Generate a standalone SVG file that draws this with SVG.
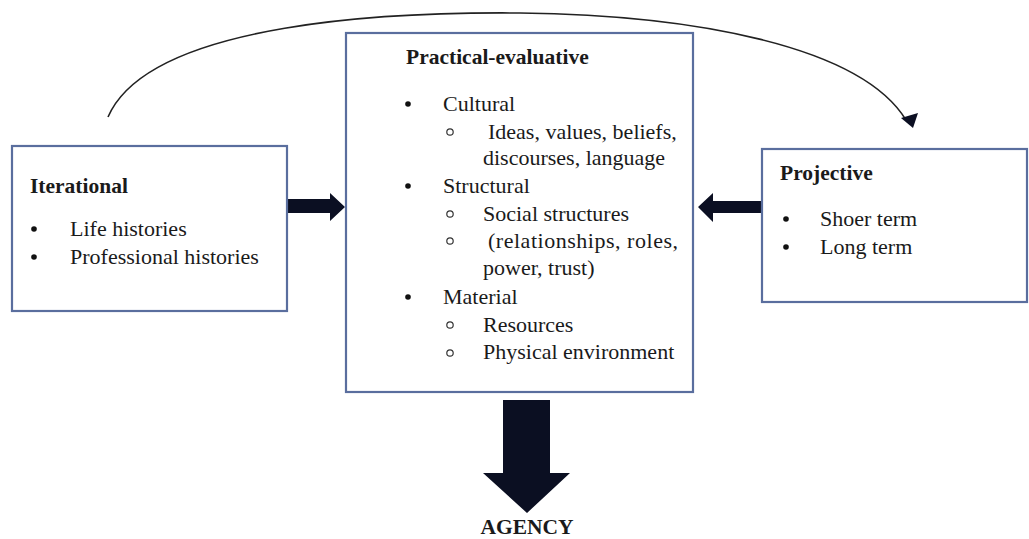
<svg xmlns="http://www.w3.org/2000/svg" width="1029" height="539" viewBox="0 0 1029 539">
  <style>
    .box { fill: #ffffff; stroke: #5a6e9e; stroke-width: 2.2; }
    .t { font-family: "Liberation Serif", "Times New Roman", serif; font-size: 22px; fill: #1a1a1a; }
    .b { font-weight: bold; font-size: 21.5px; }
    .blk { fill: #0b0f22; }
    .dot { fill: #111111; }
    .sub { fill: none; stroke: #333333; stroke-width: 1.2; }
  </style>
  <rect width="1029" height="539" fill="#ffffff"/>

  <!-- connectors -->
  <g id="connectors">
    <!-- arc from Iterational over to Projective -->
    <path d="M108,117 C150,20 400,12 520,13 C690,15 860,45 906,120" fill="none" stroke="#222222" stroke-width="1.6"/>
    <polygon class="blk" points="901,118 918,113 913,128"/>
    <!-- Iterational to Practical-evaluative -->
    <polygon class="blk" points="287,199 330,199 330,193 345,207 330,221 330,213 287,213"/>
    <!-- Projective to Practical-evaluative -->
    <polygon class="blk" points="762,201 713,201 713,193 698,207 713,222 713,213 762,213"/>
    <!-- Practical-evaluative down to Agency -->
    <polygon class="blk" points="503,400 550,400 550,473 570,473 527,513 483,473 503,473"/>
  </g>

  <g id="iterational">
    <rect class="box" x="12" y="146" width="275" height="165"/>
    <text class="t b" x="30" y="193">Iterational</text>
    <circle class="dot" cx="34" cy="229" r="2.8"/>
    <text class="t" x="70" y="236">Life histories</text>
    <circle class="dot" cx="34" cy="257" r="2.8"/>
    <text class="t" x="70" y="264">Professional histories</text>
  </g>

  <g id="practical-evaluative">
    <rect class="box" x="346" y="33" width="347" height="359"/>
    <text class="t b" x="406" y="64">Practical-evaluative</text>
    <circle class="dot" cx="408" cy="104" r="2.8"/>
    <text class="t" x="443" y="111">Cultural</text>
    <circle class="sub" cx="450" cy="132" r="3.2"/>
    <text class="t" x="488" y="139">Ideas, values, beliefs,</text>
    <text class="t" x="483" y="165">discourses, language</text>
    <circle class="dot" cx="408" cy="186" r="2.8"/>
    <text class="t" x="443" y="193">Structural</text>
    <circle class="sub" cx="450" cy="214" r="3.2"/>
    <text class="t" x="483" y="221">Social structures</text>
    <circle class="sub" cx="450" cy="241" r="3.2"/>
    <text class="t" x="488" y="248" textLength="190" lengthAdjust="spacing">(relationships,  roles,</text>
    <text class="t" x="483" y="275">power, trust)</text>
    <circle class="dot" cx="408" cy="297" r="2.8"/>
    <text class="t" x="443" y="304">Material</text>
    <circle class="sub" cx="450" cy="325" r="3.2"/>
    <text class="t" x="483" y="332">Resources</text>
    <circle class="sub" cx="450" cy="353" r="3.2"/>
    <text class="t" x="483" y="359">Physical environment</text>
  </g>

  <g id="projective">
    <rect class="box" x="762" y="149" width="265" height="153"/>
    <text class="t b" x="780" y="180">Projective</text>
    <circle class="dot" cx="786" cy="219" r="2.8"/>
    <text class="t" x="820" y="226">Shoer term</text>
    <circle class="dot" cx="786" cy="247" r="2.8"/>
    <text class="t" x="820" y="254">Long term</text>
  </g>

  <g id="agency">
    <text class="t b" x="527" y="534" text-anchor="middle" font-size="22">AGENCY</text>
  </g>
</svg>
